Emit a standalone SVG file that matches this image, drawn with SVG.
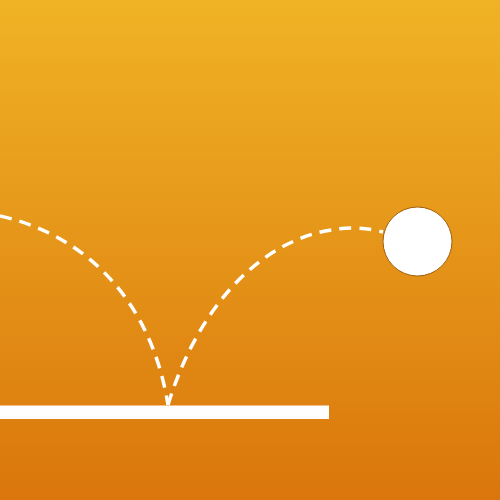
<svg xmlns="http://www.w3.org/2000/svg" width="500" height="500" viewBox="0 0 500 500">
<defs>
<linearGradient id="bg" x1="0" y1="0" x2="0" y2="1">
<stop offset="0" stop-color="#F0B325"/>
<stop offset="1" stop-color="#DA760C"/>
</linearGradient>
<style>
.path{fill:none;stroke:#fff;stroke-width:3.5;stroke-dasharray:12 8}
</style>
</defs>
<rect width="500" height="500" fill="url(#bg)"/>
<path class="path" d="M0 216 C90 236 152 305 168 405"/>
<path class="path" d="M168 405 C200 300 270 228 355 228 Q372 229 383 232"/>
<rect x="0" y="405.500" width="329" height="13.500" fill="#fff"/>
<circle cx="417.500" cy="241.500" r="34.500" fill="#fff" stroke="#A0600F" stroke-width="1"/>
</svg>
